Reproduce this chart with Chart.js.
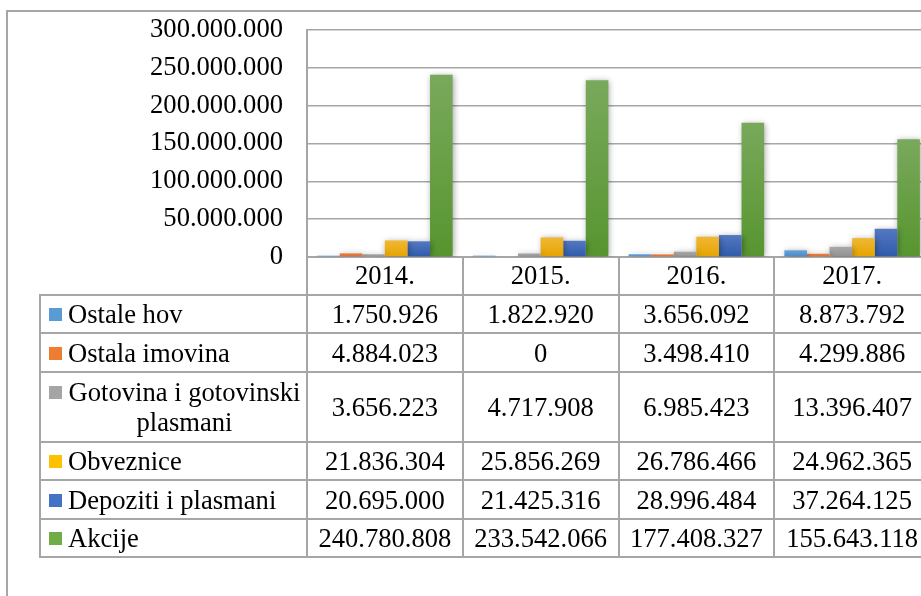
<!DOCTYPE html>
<html><head><meta charset="utf-8">
<script src="https://cdn.jsdelivr.net/npm/chart.js@4"></script>
<style>
html,body{margin:0;padding:0;width:921px;height:596px;overflow:hidden;background:#fff;}
#frame{position:absolute;left:6px;top:10px;width:1000px;height:700px;border:2px solid #A6A6A6;box-sizing:border-box;}
#wrap{position:absolute;left:0;top:0;width:940px;height:300px;}
#tbl{position:absolute;left:39px;top:294px;border-collapse:collapse;table-layout:fixed;font-family:'Liberation Serif','Times New Roman',serif;font-size:26.6px;color:#000;}
#tbl td{border:2px solid #A6A6A6;padding:0;vertical-align:middle;}
#tbl td.v{text-align:center;line-height:30px;}
.lab{display:flex;align-items:center;padding-left:8px;padding-right:5px;}
.sw{flex:0 0 13px;width:13px;height:13px;margin-right:6px;align-self:flex-start;margin-top:9px;}
.tx{display:inline-block;text-align:center;line-height:30px;}
</style></head>
<body>
<div id="frame"></div>
<div id="wrap"><canvas id="c" width="940" height="300"></canvas></div>
<table id="tbl"></table>
<script>
const categories = ['2014.', '2015.', '2016.', '2017.'];
const seriesNames = ['Ostale hov', 'Ostala imovina', 'Gotovina i gotovinski plasmani', 'Obveznice', 'Depoziti i plasmani', 'Akcije'];
const ostaleHov = [1750926, 1822920, 3656092, 8873792];
const ostalaImovina = [4884023, 0, 3498410, 4299886];
const gotovina = [3656223, 4717908, 6985423, 13396407];
const obveznice = [21836304, 25856269, 26786466, 24962365];
const depoziti = [20695000, 21425316, 28996484, 37264125];
const akcije = [240780808, 233542066, 177408327, 155643118];
const yTickValues = [0, 50000000, 100000000, 150000000, 200000000, 250000000, 300000000];

const seriesValues = [ostaleHov, ostalaImovina, gotovina, obveznice, depoziti, akcije];
const baseColors = ['#5B9BD5', '#ED7D31', '#A5A5A5', '#FFC000', '#4472C4', '#70AD47'];
const topColors = ['#66A3D9', '#E8834A', '#A8A8A8', '#F0B733', '#5478C2', '#79A95C'];
const bottomColors = ['#4A88C4', '#D8682A', '#909090', '#E6A400', '#2F5AAA', '#57952F'];

function fmt(v) { return String(v).replace(/\B(?=(\d{3})+(?!\d))/g, '.'); }

function grad(i) {
  return (c) => {
    const ch = c.chart;
    if (!ch.chartArea || !ch.scales.y) return baseColors[i];
    const y = ch.scales.y;
    const v = c.raw || 0;
    const t = y.getPixelForValue(v), b = y.getPixelForValue(0);
    if (!isFinite(t) || b - t < 1) return baseColors[i];
    const g = ch.ctx.createLinearGradient(0, t, 0, b);
    g.addColorStop(0, topColors[i]);
    g.addColorStop(1, bottomColors[i]);
    return g;
  };
}

const shadowPlugin = {
  id: 'shadow',
  beforeDatasetsDraw(chart) {
    const c = chart.ctx; c.save();
    c.shadowColor = 'rgba(0,0,0,0.35)'; c.shadowBlur = 6; c.shadowOffsetX = 1; c.shadowOffsetY = 1;
  },
  afterDatasetsDraw(chart) { chart.ctx.restore(); }
};

const font = { family: "'Liberation Serif', 'Times New Roman', serif", size: 26.6 };

const chart = new Chart(document.getElementById('c'), {
  type: 'bar',
  data: {
    labels: categories,
    datasets: seriesNames.map((n, i) => ({
      label: n, data: seriesValues[i], backgroundColor: grad(i), borderWidth: 0,
      categoryPercentage: 0.87, barPercentage: 1
    }))
  },
  options: {
    responsive: false, animation: false, devicePixelRatio: 1,
    layout: { padding: { top: 30, right: 10, left: 0, bottom: 0 } },
    plugins: { legend: { display: false }, tooltip: { enabled: false } },
    scales: {
      x: {
        grid: { display: true, offset: true, drawOnChartArea: false, drawTicks: true, tickLength: 38, color: '#A6A6A6', lineWidth: 2 },
        border: { display: true, color: '#A6A6A6', width: 2 },
        ticks: { font: font, color: '#000', padding: -34, maxRotation: 0 },
        afterFit: (s) => { s.height = 43; }
      },
      y: {
        min: 0, max: 300000000,
        afterBuildTicks: (s) => { s.ticks = yTickValues.map(v => ({ value: v })); },
        grid: { color: '#A6A6A6', lineWidth: 1.5, drawTicks: true, tickLength: 22, tickColor: 'rgba(0,0,0,0)' },
        border: { display: true, color: '#A6A6A6', width: 2 },
        ticks: { font: font, color: '#000', padding: 2, callback: (v) => fmt(v) },
        afterFit: (s) => { s.width = 307; }
      }
    }
  },
  plugins: [shadowPlugin]
});

// data table below, aligned with the x scale
const xs = chart.scales.x;
const colW = (xs.right - xs.left) / categories.length;
const tbl = document.getElementById('tbl');
const firstW = xs.left - 40;
tbl.style.width = (firstW + colW * categories.length) + 'px';
let html = '<colgroup><col style="width:' + firstW + 'px">' + categories.map(() => '<col style="width:' + colW + 'px">').join('') + '</colgroup>';
const rowH = [38, 39, 70, 38, 39, 38];
seriesNames.forEach((n, i) => {
  html += '<tr style="height:' + rowH[i] + 'px"><td><div class="lab"><span class="sw" style="background:' + baseColors[i] + '"></span><span class="tx">' + n + '</span></div></td>';
  seriesValues[i].forEach(v => { html += '<td class="v">' + fmt(v) + '</td>'; });
  html += '</tr>';
});
tbl.innerHTML = html;
</script>
</body></html>
